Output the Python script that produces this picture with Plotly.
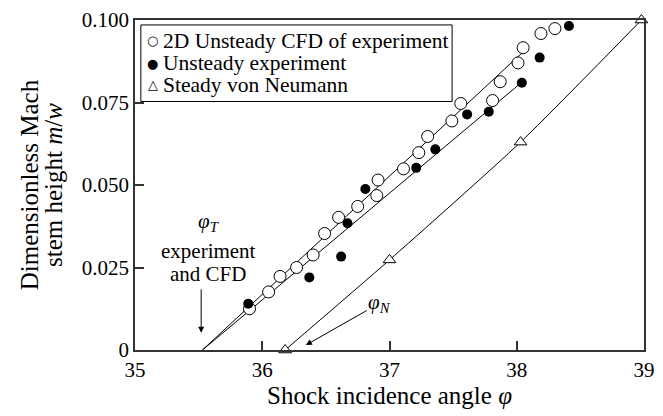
import plotly.graph_objects as go

# --- data ---
cfd_phi = [35.90, 36.05, 36.14, 36.27, 36.40, 36.49, 36.60, 36.75, 36.90, 36.91, 37.11,
           37.23, 37.30, 37.49, 37.56, 37.81, 37.87, 38.01, 38.05, 38.19, 38.30]
cfd_m = [0.0125, 0.0176, 0.0223, 0.0250, 0.0288, 0.0353, 0.0402, 0.0435, 0.0468, 0.0515, 0.0549,
         0.0598, 0.0647, 0.0694, 0.0747, 0.0756, 0.0813, 0.0870, 0.0916, 0.0959, 0.0974]

exp_phi = [35.89, 36.37, 36.62, 36.67, 36.81, 37.21, 37.36, 37.61, 37.78, 38.04, 38.18, 38.41]
exp_m = [0.0140, 0.0220, 0.0283, 0.0384, 0.0488, 0.0552, 0.0608, 0.0714, 0.0722, 0.0810, 0.0886, 0.0982]

vn_phi = [36.18, 37.00, 38.03, 38.98]
vn_m = [0.0, 0.0273, 0.0630, 0.1000]

cfd_fit_phi = [35.53, 38.04]
cfd_fit_m = [0.0, 0.0900]
exp_fit_phi = [35.53, 38.035]
exp_fit_m = [0.0, 0.0810]

x_ticks = [35, 36, 37, 38, 39]
y_ticks = [0, 0.025, 0.05, 0.075, 0.1]
y_ticktext = ["0", "0.025", "0.050", "0.075", "0.100"]

legend_labels = ["2D Unsteady CFD of experiment", "Unsteady experiment", "Steady von Neumann"]
legend_glyphs = ["○", "●", "△"]

FONT = "Liberation Serif"
AX = "#333333"

fig = go.Figure()

# fit lines
fig.add_trace(go.Scatter(x=cfd_fit_phi, y=cfd_fit_m, mode="lines",
                         line=dict(color="black", width=1), showlegend=False, hoverinfo="skip"))
fig.add_trace(go.Scatter(x=exp_fit_phi, y=exp_fit_m, mode="lines",
                         line=dict(color="black", width=1), showlegend=False, hoverinfo="skip"))
fig.add_trace(go.Scatter(x=vn_phi, y=vn_m, mode="lines",
                         line=dict(color="black", width=1, shape="spline", smoothing=0.6),
                         showlegend=False, hoverinfo="skip", cliponaxis=False))

# markers
fig.add_trace(go.Scatter(x=cfd_phi, y=cfd_m, mode="markers", name=legend_labels[0], showlegend=False,
                         marker=dict(symbol="circle", size=12, color="white",
                                     line=dict(color="black", width=1)), cliponaxis=False))
fig.add_trace(go.Scatter(x=exp_phi, y=exp_m, mode="markers", name=legend_labels[1], showlegend=False,
                         marker=dict(symbol="circle", size=10, color="black",
                                     line=dict(color="black", width=0)), cliponaxis=False))
fig.add_trace(go.Scatter(x=vn_phi, y=vn_m, mode="markers", name=legend_labels[2], showlegend=False,
                         marker=dict(symbol="triangle-up", size=11, color="white",
                                     line=dict(color="black", width=1)), cliponaxis=False))

# legend box (drawn manually to match the compact original legend)
fig.add_shape(type="rect", xref="paper", yref="paper", x0=0.0115, x1=0.623, y0=0.753, y1=0.985,
              line=dict(color="black", width=1), fillcolor="white", layer="above")
leg_y = [0.9375, 0.869, 0.8036]
for glyph, label, yy in zip(legend_glyphs, legend_labels, leg_y):
    fig.add_annotation(xref="paper", yref="paper", x=0.0346, y=yy, text=glyph, showarrow=False,
                       xanchor="center", yanchor="middle",
                       font=dict(family="DejaVu Sans", size=13, color="black"))
    fig.add_annotation(xref="paper", yref="paper", x=0.0519, y=yy, text=label, showarrow=False,
                       xanchor="left", yanchor="middle", font=dict(size=21.5))

# phi_T annotation
S = "<span style='font-size:21px'>{}</span>"
fig.add_annotation(x=35.578, y=0.0343, text="<i>φ</i><sub><i>T</i></sub>",
                   showarrow=False, font=dict(size=21), yanchor="bottom")
fig.add_annotation(x=35.575, y=0.0343,
                   text="<br>".join([S.format("experiment"), S.format("and CFD")]),
                   showarrow=False, font=dict(size=17.5), yanchor="top")
fig.add_annotation(x=35.52, y=0.0052, text="", showarrow=True, ax=0, ay=-45,
                   arrowhead=2, arrowsize=1.2, arrowwidth=1, arrowcolor="black")
# phi_N annotation
fig.add_annotation(x=36.343, y=0.0015, text="<i>φ</i><sub><i>N</i></sub>", showarrow=True,
                   ax=74, ay=-42, arrowhead=2, arrowsize=1.2, arrowwidth=1, arrowcolor="black",
                   font=dict(size=21))

axis_common = dict(showline=True, linecolor=AX, linewidth=1.5, mirror=True, ticks="inside",
                   ticklen=9, tickwidth=1.5, tickcolor=AX, showgrid=False, zeroline=False,
                   ticklabeloverflow="allow",
                   tickfont=dict(size=21, family=FONT, color="black"))

fig.update_layout(
    width=663, height=416,
    margin=dict(l=135, r=8, t=14, b=66),
    plot_bgcolor="white", paper_bgcolor="white",
    font=dict(family=FONT, size=20, color="black"),
    showlegend=False,
    xaxis=dict(range=[35, 39], tickvals=x_ticks,
               title=dict(text="Shock incidence angle <i>φ</i>", font=dict(size=25), standoff=4),
               **axis_common),
    yaxis=dict(range=[0, 0.1], tickvals=y_ticks, ticktext=y_ticktext,
               title=dict(text="<span style='font-size:25px'>Dimensionless Mach</span><br>"
                               "<span style='font-size:25px'>stem height <i>m</i>/<i>w</i></span>",
                          font=dict(size=18.5), standoff=14),
               **axis_common),
)

fig.write_html("out.html")
